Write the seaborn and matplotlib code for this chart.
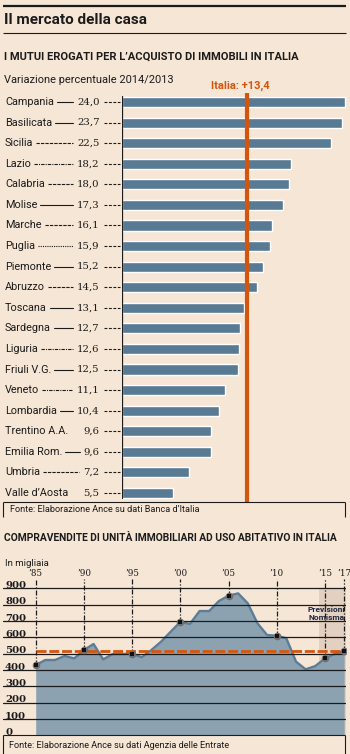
import matplotlib
matplotlib.use("Agg")
import matplotlib.pyplot as plt
import seaborn as sns
import numpy as np
import pandas as pd
from matplotlib.transforms import blended_transform_factory as blend

# ---------------- data ----------------
regioni = ["Campania", "Basilicata", "Sicilia", "Lazio", "Calabria", "Molise",
           "Marche", "Puglia", "Piemonte", "Abruzzo", "Toscana", "Sardegna",
           "Liguria", "Friuli V.G.", "Veneto", "Lombardia", "Trentino A.A.",
           "Emilia Rom.", "Umbria", "Valle d\u2019Aosta"]
variazione = [24.0, 23.7, 22.5, 18.2, 18.0, 17.3, 16.1, 15.9, 15.2, 14.5,
              13.1, 12.7, 12.6, 12.5, 11.1, 10.4, 9.6, 9.6, 7.2, 5.5]
italia = 13.4

anni = list(range(1985, 2018))
compravendite = [430, 461, 461, 486, 471, 522, 559, 465, 498, 498,
                 500, 478, 522, 573, 634, 694, 682, 761, 761, 822,
                 855, 869, 808, 686, 614, 610, 594, 451, 404, 424,
                 471, 498, 516]
anni_marcati = [1985, 1990, 1995, 2000, 2005, 2010, 2015, 2017]
etichette_anni = ["\u201985", "\u201990", "\u201995", "\u201900", "\u201905",
                  "\u201910", "\u201915", "\u201917"]
media = 515
tick_y = [0, 100, 200, 300, 400, 500, 600, 700, 800, 900]
inizio_previsioni = 2014.4

# ---------------- style ----------------
W, H = 350, 754
BG = "#F6E6D6"
BAR = "#597A93"
ORANGE = "#D4560E"
FILL = "#8CA2B1"
LINE = "#5B7D97"
SHADE = "#E2D1C0"
INK = "#1B1B1B"
NAVY = "#1E2540"

sns.set_theme(style="white")
plt.rcParams["font.family"] = ["Roboto", "DejaVu Sans"]
SANS = dict(family=["Roboto", "DejaVu Sans"])
SERIF = dict(family=["DejaVu Serif"])

fig = plt.figure(figsize=(W / 100, H / 100), dpi=100, facecolor=BG)


def fx(px):
    return px / W


def fy(py):
    return 1 - py / H


def hline(x0, x1, y, lw=1.0, color=INK):
    fig.add_artist(plt.Line2D([fx(x0), fx(x1)], [fy(y), fy(y)], transform=fig.transFigure,
                              color=color, lw=lw, solid_capstyle="butt"))


def vline(x, y0, y1, lw=1.0, color=INK):
    fig.add_artist(plt.Line2D([fx(x), fx(x)], [fy(y0), fy(y1)], transform=fig.transFigure,
                              color=color, lw=lw, solid_capstyle="butt"))


# header
hline(3, 346, 6, lw=1.6)
fig.text(fx(4), fy(20), "Il mercato della casa", fontsize=11, fontweight="bold",
         color=INK, va="center", ha="left", **SANS)
hline(3, 346, 33, lw=0.8)
fig.text(fx(4), fy(57), "I MUTUI EROGATI PER L\u2019ACQUISTO DI IMMOBILI IN ITALIA",
         fontsize=8.0, fontweight="bold", color=INK, va="center", ha="left", **SANS)
fig.text(fx(4), fy(80), "Variazione percentuale 2014/2013", fontsize=7.9,
         color=INK, va="center", ha="left", **SANS)

# ---------------- top bar chart ----------------
top, bot = 93, 502
axb = fig.add_axes([fx(122), fy(bot), fx(348) - fx(122), fy(top) - fy(bot)])
axb.set_facecolor("none")
df = pd.DataFrame({"regione": regioni, "variazione": variazione})
sns.barplot(data=df, x="variazione", y="regione", orient="h", color=BAR,
            saturation=1, width=0.49, ax=axb)
row = 20.58
axb.set_xlim(0, (348 - 122) / 9.3)
axb.set_ylim((bot - 102) / row, (top - 102) / row)
axb.axis("off")
axb.axvline(italia, color=ORANGE, lw=3.0, zorder=5)
axb.axvline(0, ymin=(bot - 498) / (bot - top), ymax=(bot - 96) / (bot - top),
            color=INK, lw=0.9, zorder=4)
fig.text(fx(240), fy(86), "Italia: +" + f"{italia:.1f}".replace(".", ","),
         color=ORANGE, fontsize=8.0, fontweight="bold", ha="center", va="center", **SANS)

tr = blend(fig.transFigure, axb.transData)
name_txt, val_txt = [], []
for i, (r, v) in enumerate(zip(regioni, variazione)):
    name_txt.append(axb.text(fx(5), i, r, transform=tr, fontsize=7.8, color=INK,
                             ha="left", va="center", **SANS))
    val_txt.append(axb.text(fx(99.5), i, f"{v:.1f}".replace(".", ","), transform=tr,
                            fontsize=7.3, color=INK, ha="right", va="center", **SERIF))
    axb.plot([fx(104), fx(120)], [i, i], transform=tr, color=INK, lw=0.8,
             linestyle=(0, (2.6, 1.4)), clip_on=False)

leader_styles = ["-", "-", (0, (3, 1)), (0, (3, 1, 1, 1)), (0, (3, 1)), "-", (0, (3, 1)),
                 (0, (1, 1)), "-", (0, (3, 1)), "-", "-", (0, (3, 1, 1, 1)), "-",
                 (0, (3, 1, 1, 1)), "-", None, "-", (0, (3, 1)), None]
fig.canvas.draw()
rend = fig.canvas.get_renderer()
for i, st in enumerate(leader_styles):
    if st is None:
        continue
    b1 = name_txt[i].get_window_extent(rend)
    b2 = val_txt[i].get_window_extent(rend)
    x0 = b1.x1 + 3
    x1 = b2.x0 - 4
    if x1 - x0 < 3:
        continue
    axb.plot([x0 / W, x1 / W], [i, i], transform=tr, color=INK, lw=0.8,
             linestyle=st, clip_on=False)

# source box 1
hline(3, 345, 502, lw=0.8)
vline(3.4, 502, 517, lw=0.8)
vline(344.5, 502, 517, lw=0.8)
fig.text(fx(10), fy(509.5), "Fonte: Elaborazione Ance su dati Banca d\u2019Italia",
         fontsize=6.6, color=INK, ha="left", va="center", **SANS)

# ---------------- bottom area chart ----------------
fig.text(fx(4), fy(538), "COMPRAVENDITE DI UNIT\u00c0 IMMOBILIARI AD USO ABITATIVO IN ITALIA",
         fontsize=7.4, fontweight="bold", color=INK, va="center", ha="left", **SANS)
fig.text(fx(5), fy(563), "In migliaia", fontsize=6.8, color=INK, va="center",
         ha="left", **SANS)

y0px, ytop = 735.3, 579
per100 = 16.33
axa = fig.add_axes([fx(3), fy(y0px), fx(346) - fx(3), fy(ytop) - fy(y0px)])
axa.set_facecolor("none")
pxyear = 9.64
xl = (1985 - (35.7 - 3) / pxyear, 2017 + (346 - 344.2) / pxyear)
ylim_top = (y0px - ytop) / per100 * 100

axa.axvspan(inizio_previsioni, 2017.3, ymin=0, ymax=900 / ylim_top, color=SHADE, lw=0, zorder=0)
axa.fill_between(anni, compravendite, 0, color=FILL, lw=0, zorder=1)
sns.lineplot(x=anni, y=compravendite, color=LINE, lw=1.7, ax=axa, zorder=2)
axa.set_xlim(*xl)
axa.set_ylim(0, ylim_top)
axa.axis("off")

for t in tick_y:
    if t > 0:
        axa.axhline(t, color=INK, lw=0.9, zorder=3)
trl = blend(fig.transFigure, axa.transData)
for t in tick_y:
    axa.text(fx(5), t + 0.12 * per100, str(t), transform=trl,
             fontsize=7.3, fontweight="bold", color=INK, ha="left", va="baseline",
             clip_on=False, **SERIF)

axa.plot([1985, 2017.2], [media, media], color=ORANGE, lw=2.0,
         linestyle=(0, (3.6, 1.0)), zorder=4, solid_capstyle="butt")

vals_marc = [compravendite[anni.index(a)] for a in anni_marcati]
axa.vlines(anni_marcati, vals_marc, ylim_top, colors=INK, lw=0.9,
           linestyles=[(0, (4, 1.5, 1, 1.5))], zorder=3)
axa.scatter(anni_marcati, vals_marc, s=30, color="#6E6E6E", zorder=6, lw=0)
axa.scatter(anni_marcati, vals_marc, s=6, marker="s", color="#111111", zorder=7, lw=0)

trx = blend(axa.transData, fig.transFigure)
for a, lab in zip(anni_marcati, etichette_anni):
    axa.text(a, fy(574), lab, transform=trx, fontsize=6.3, color=INK, ha="center",
             va="center", **SERIF)

fig.text(fx(345), fy(609.5), "Previsioni", fontsize=6.0, fontweight="bold", color=NAVY,
         ha="right", va="center", **SANS)
fig.text(fx(345), fy(617), "Nomisma", fontsize=6.0, fontweight="bold", color=NAVY,
         ha="right", va="center", **SANS)

# source box 2
hline(3, 345, 734.5, lw=0.8)
vline(3.4, 734.5, 754, lw=0.8)
vline(344.5, 734.5, 754, lw=0.8)
fig.text(fx(9), fy(745), "Fonte: Elaborazione Ance su dati Agenzia delle Entrate",
         fontsize=6.6, color=INK, ha="left", va="center", **SANS)

fig.savefig("out.png", dpi=100, facecolor=BG)
